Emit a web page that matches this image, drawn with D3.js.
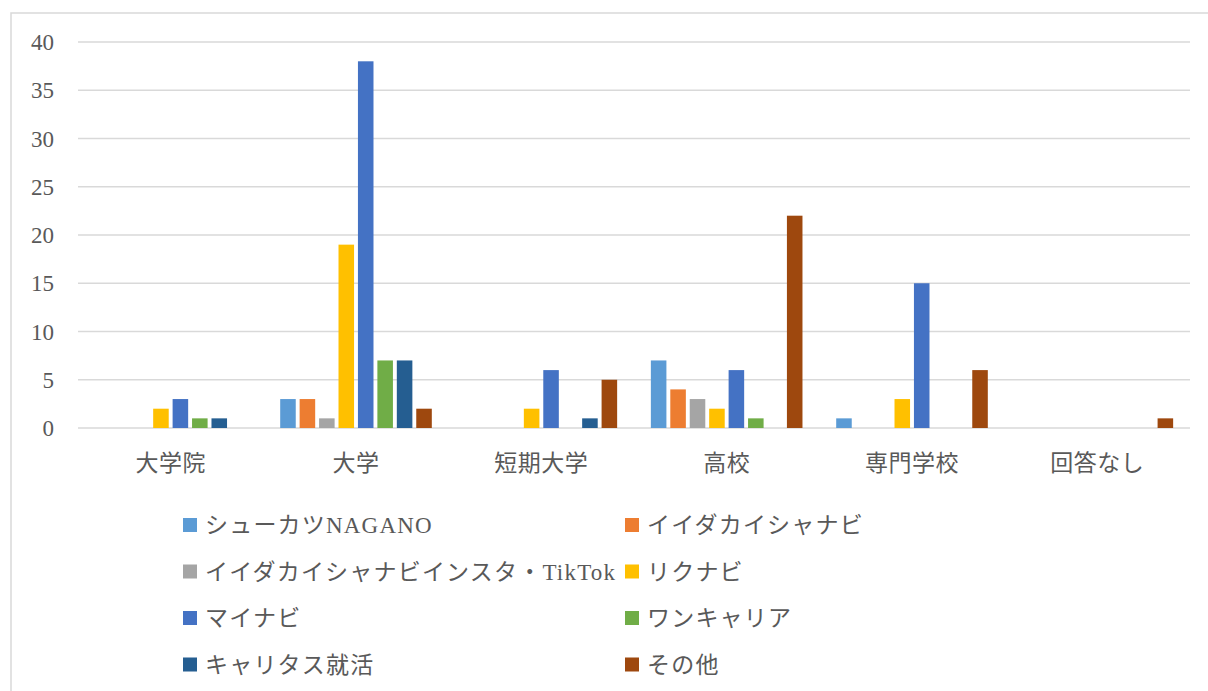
<!DOCTYPE html>
<html>
<head>
<meta charset="utf-8">
<script src="https://cdn.jsdelivr.net/npm/d3@7"></script>
<style>
  body { margin: 0; background: #fff; }
  svg text { font-family: "Liberation Serif", "Noto Sans CJK JP", serif; fill: #595959; }
</style>
</head>
<body>
<svg id="chart" width="1208" height="691"></svg>
<script>
// Categories and series
const categories = ["大学院", "大学", "短期大学", "高校", "専門学校", "回答なし"];
const seriesNames = [
  "シューカツNAGANO",
  "イイダカイシャナビ",
  "イイダカイシャナビインスタ・TikTok",
  "リクナビ",
  "マイナビ",
  "ワンキャリア",
  "キャリタス就活",
  "その他"
];
const shukatsuNagano = [0, 3, 0, 7, 1, 0];
const iidaKaishaNavi = [0, 3, 0, 4, 0, 0];
const iidaInstaTiktok = [0, 1, 0, 3, 0, 0];
const rikunabi = [2, 19, 2, 2, 3, 0];
const mynavi = [3, 38, 6, 6, 15, 0];
const oneCareer = [1, 7, 0, 1, 0, 0];
const careertasu = [1, 7, 1, 0, 0, 0];
const others = [0, 2, 5, 22, 6, 1];
const seriesValues = [shukatsuNagano, iidaKaishaNavi, iidaInstaTiktok, rikunabi, mynavi, oneCareer, careertasu, others];
const yTicks = [0, 5, 10, 15, 20, 25, 30, 35, 40];

const colors = ["#5B9BD5", "#ED7D31", "#A5A5A5", "#FFC000", "#4472C4", "#70AD47", "#255E91", "#9E480E"];

const svg = d3.select("#chart");

// outer chart frame
svg.append("rect")
    .attr("x", 11).attr("y", 13)
    .attr("width", 1230).attr("height", 720)
    .attr("fill", "none")
    .attr("stroke", "#d9d9d9")
    .attr("stroke-width", 1.5);

const plot = { left: 78, right: 1190, top: 42, bottom: 428 };

const x0 = d3.scaleBand()
    .domain(categories)
    .range([plot.left, plot.right])
    .paddingInner(0.14)
    .paddingOuter(0.07);

const x1 = d3.scaleBand()
    .domain(d3.range(seriesNames.length))
    .range([0, x0.bandwidth()])
    .padding(0.2);

const y = d3.scaleLinear()
    .domain([0, 40])
    .range([plot.bottom, plot.top]);

// gridlines
svg.append("g")
    .selectAll("line")
    .data(yTicks)
    .join("line")
    .attr("x1", plot.left).attr("x2", plot.right)
    .attr("y1", d => y(d)).attr("y2", d => y(d))
    .attr("stroke", "#d9d9d9")
    .attr("stroke-width", 1.5);

// y tick labels
svg.append("g")
    .selectAll("text")
    .data(yTicks)
    .join("text")
    .attr("x", 54)
    .attr("y", d => y(d))
    .attr("dy", "0.35em")
    .attr("text-anchor", "end")
    .style("font-size", "23px")
    .text(d => d);

// bars
const groups = svg.append("g")
    .selectAll("g")
    .data(seriesValues)
    .join("g")
    .attr("fill", (d, i) => colors[i]);

groups.each(function(vals, si) {
  d3.select(this).selectAll("rect")
    .data(vals.map((v, ci) => ({ v, c: categories[ci] })))
    .join("rect")
    .attr("x", d => x0(d.c) + x1(si))
    .attr("width", x1.bandwidth())
    .attr("y", d => y(d.v))
    .attr("height", d => y(0) - y(d.v));
});

// category labels
svg.append("g")
    .selectAll("text")
    .data(categories)
    .join("text")
    .attr("x", d => x0(d) + x0.bandwidth() / 2)
    .attr("y", 463)
    .attr("dy", "0.35em")
    .attr("text-anchor", "middle")
    .style("font-size", "23px")
    .style("letter-spacing", "0.5px")
    .text(d => d);

// legend, two columns
const legendCols = [183, 625];
const legendRow0 = 525, legendStep = 46.5;
const legend = svg.append("g")
    .selectAll("g")
    .data(seriesNames)
    .join("g")
    .attr("transform", (d, i) => `translate(${legendCols[i % 2]},${legendRow0 + Math.floor(i / 2) * legendStep})`);

legend.append("rect")
    .attr("x", 0).attr("y", -7)
    .attr("width", 14).attr("height", 14)
    .attr("fill", (d, i) => colors[i]);

legend.append("text")
    .attr("x", 22)
    .attr("y", 0)
    .attr("dy", "0.35em")
    .style("font-size", "23px")
    .style("letter-spacing", "1.2px")
    .text(d => d);
</script>
</body>
</html>
